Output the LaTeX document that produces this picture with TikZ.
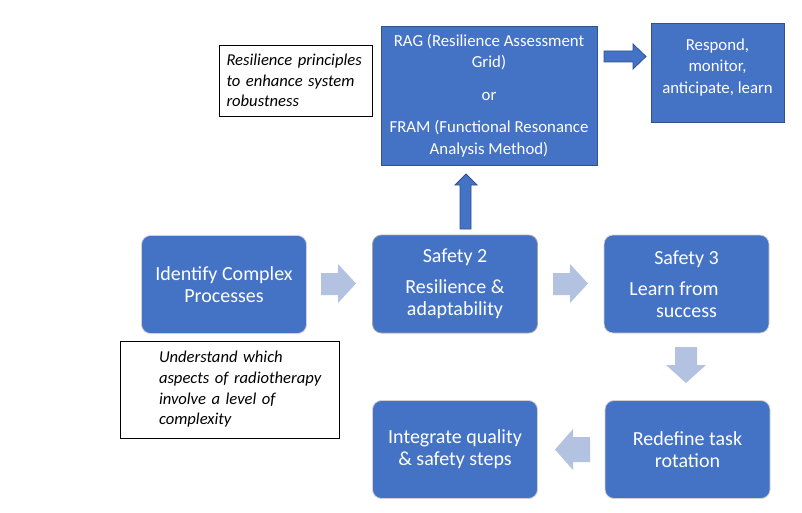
\documentclass[tikz,border=0pt]{standalone}
\usepackage{fontspec}
\setmainfont{Carlito}
\usepackage{xcolor}
\usepackage{tikz}
\usetikzlibrary{positioning}

\definecolor{boxblue}{HTML}{4472C4}
\definecolor{edgeblue}{HTML}{2F528F}
\definecolor{paleblue}{HTML}{B4C2E2}

\tikzset{
    stepbox/.style={rounded corners=9pt, fill=boxblue, draw=gray!35, line width=0.8pt,
        minimum width=165pt, minimum height=98pt, text=white, align=center,
        font=\fontsize{20}{22}\selectfont},
    toolbox/.style={fill=boxblue, draw=edgeblue, line width=0.9pt, text=white,
        align=center, font=\fontsize{16.8}{21.5}\selectfont},
    notebox/.style={draw=black, fill=white, line width=0.8pt, align=left,
        font=\fontsize{16.6}{20.7}\selectfont\itshape},
    palearrow/.style={fill=paleblue},
    darkarrow/.style={fill=boxblue, draw=edgeblue, line width=0.8pt}
}

\begin{document}
\begin{tikzpicture}[x=1pt, y=-1pt]
    \useasboundingbox (0,0) rectangle (802,513);

    % 1. Các bước chính (hộp bo góc)
    \node[stepbox] (identify) at (224,284.5) {Identify Complex\\Processes};
    \node[stepbox, draw=gray!70] (safetytwo) at (455,284) {Safety 2\\[9pt]Resilience \&\\adaptability};
    \node[stepbox] (safetythree) at (686.5,284) {Safety 3\\[9pt]Learn from\kern25pt\\success};
    \node[stepbox] (redefine) at (687.5,449.5) {Redefine task\\rotation};
    \node[stepbox] (integrate) at (455,449.5) {Integrate quality\\\& safety steps};

    % 2. Hộp phương pháp phía trên
    \node[toolbox, minimum width=216pt, minimum height=139pt] (rag) at (489,95.5)
        {RAG (Resilience Assessment\\Grid)\\[11pt]or\\[11pt]FRAM (Functional Resonance\\Analysis Method)};
    \node[toolbox, minimum width=133pt, minimum height=99pt] (respond) at (717.5,72.5)
        {Respond,\\monitor,\\anticipate, learn\\[-8pt]\mbox{}};

    % 3. Ghi chú in nghiêng
    \node[notebox, minimum width=153pt, minimum height=71pt, text width=138pt] (principles) at (295.5,80.5)
        {Resilience principles\\to enhance system\\robustness};
    \node[notebox, minimum width=219pt, minimum height=97pt, text width=190pt] (understand) at (229.5,389.5)
        {\leftskip=24.5pt Understand which\\aspects of \mbox{radiotherapy}\\involve a level of\\complexity\par};

    % 4. Mũi tên khối nhạt giữa các bước
    \fill[palearrow] (321,273) -- (338,273) -- (338,264) -- (356,283.5) -- (338,303) -- (338,295) -- (321,295) -- cycle;
    \fill[palearrow] (553,273) -- (570,273) -- (570,264) -- (588,283.5) -- (570,303) -- (570,295) -- (553,295) -- cycle;
    \fill[palearrow] (675,347) -- (697,347) -- (697,365) -- (706,365) -- (686,383) -- (666,365) -- (675,365) -- cycle;
    \fill[palearrow] (590,437) -- (573,437) -- (573,429) -- (555,449.5) -- (573,470) -- (573,462) -- (590,462) -- cycle;

    % 5. Mũi tên khối đậm
    \draw[darkarrow] (460,229) -- (460,185) -- (455,185) -- (466,174) -- (477,185) -- (471,185) -- (471,229) -- cycle;
    \draw[darkarrow] (604,51) -- (633,51) -- (633,44) -- (646,56.5) -- (633,69) -- (633,62) -- (604,62) -- cycle;

\end{tikzpicture}
\end{document}
